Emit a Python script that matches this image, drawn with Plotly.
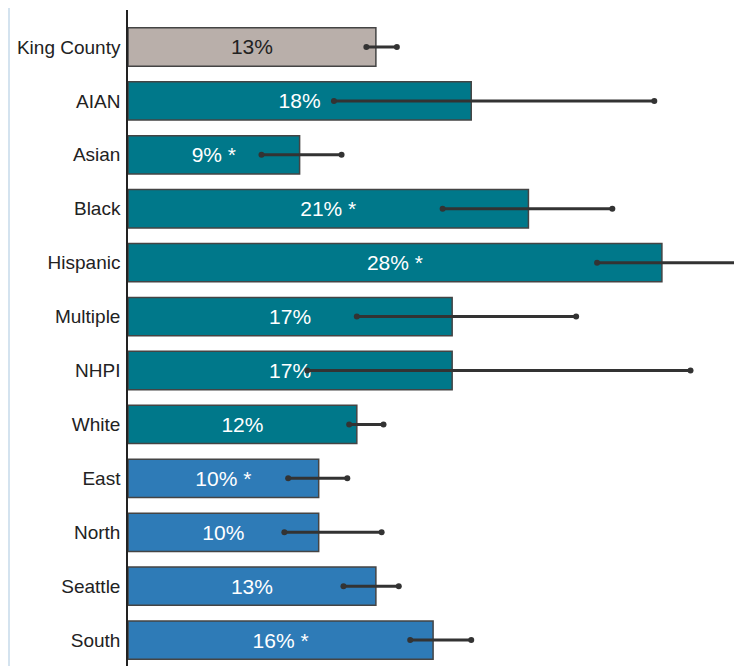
import plotly.graph_objects as go

categories = ["King County", "AIAN", "Asian", "Black", "Hispanic", "Multiple", "NHPI",
              "White", "East", "North", "Seattle", "South"]
values = [13, 18, 9, 21, 28, 17, 17, 12, 10, 10, 13, 16]
lower = [12.5, 10.8, 7.0, 16.5, 24.6, 12.0, 9.4, 11.6, 8.4, 8.2, 11.3, 14.8]
upper = [14.1, 27.6, 11.2, 25.4, 33.0, 23.5, 29.5, 13.4, 11.5, 13.3, 14.2, 18.0]
labels = ["13%", "18%", "9% *", "21% *", "28% *", "17%", "17%", "12%", "10% *", "10%", "13%", "16% *"]
groups = ["total"] + ["race"] * 7 + ["region"] * 4

group_colors = {"total": "#b9afaa", "race": "#00788a", "region": "#2e7bb7"}
colors = [group_colors[g] for g in groups]
text_colors = ["#222222" if g == "total" else "white" for g in groups]

fig = go.Figure()
fig.add_trace(go.Bar(
    x=values, y=categories, orientation="h",
    marker=dict(color=colors, line=dict(color="#444444", width=1.5)),
    width=0.71,
    text=labels, textposition="inside", insidetextanchor="middle",
    textfont=dict(family="Liberation Sans, Arial", size=21, color=text_colors),
    hoverinfo="skip",
))

ex, ey = [], []
for c, lo, hi in zip(categories, lower, upper):
    ex += [lo, hi, None]
    ey += [c, c, None]
fig.add_trace(go.Scatter(
    x=ex, y=ey, mode="lines+markers",
    line=dict(color="#333333", width=3),
    marker=dict(color="#333333", size=6, symbol="circle"),
    hoverinfo="skip", showlegend=False,
))

fig.update_layout(
    width=734, height=658,
    margin=dict(l=120, r=0, t=2, b=0, autoexpand=False),
    paper_bgcolor="white", plot_bgcolor="white",
    showlegend=False,
    xaxis=dict(range=[0, 32.2], visible=False, fixedrange=True, automargin=False),
    yaxis=dict(
        range=[11.48, -0.686], categoryorder="array", categoryarray=categories,
        showline=True, linecolor="#222222", linewidth=1.5,
        ticks="", ticklabelstandoff=2, automargin=False,
        tickfont=dict(family="Liberation Sans, Arial", size=19, color="#222222"),
        showgrid=False, zeroline=False,
    ),
    uniformtext=dict(mode=False),
    shapes=[dict(type="line", xref="paper", yref="paper",
                 x0=-119/614, x1=-119/614, y0=0, y1=1.01,
                 line=dict(color="#d4e3ef", width=2))],
)

fig.write_html("out.html")
